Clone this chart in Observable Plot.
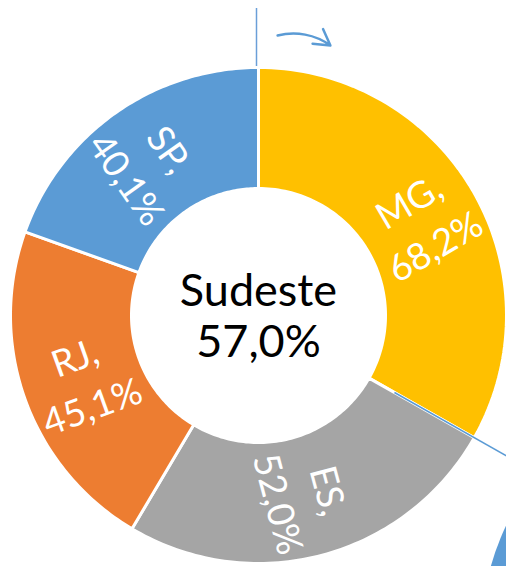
<!DOCTYPE html>
<html><head><meta charset="utf-8">
<script src="https://cdn.jsdelivr.net/npm/d3@7"></script>
<script src="https://cdn.jsdelivr.net/npm/@observablehq/plot@0.6"></script>
<style>html,body{margin:0;padding:0;background:#fff;overflow:hidden}</style>
</head><body><div id="chart"></div>
<script>
// ---- data ----
const states = ["MG", "ES", "RJ", "SP"];
const values = [68.2, 52.0, 45.1, 40.1];
const valueLabels = ["68,2%", "52,0%", "45,1%", "40,1%"];
const colors = ["#FFC000", "#A5A5A5", "#ED7D31", "#5B9BD5"];
const regionName = "Sudeste";
const regionValue = "57,0%";

// ---- layout ----
const W = 506, H = 566;
const cx = 258, cy = 315, R = 248;
const inner = 127 / R;
const labelR = 0.755;
const font = "Lato, 'Open Sans', sans-serif";

const pie = d3.pie().sort(null).value(d => d.value);
const slices = pie(states.map((s, i) => ({state: s, value: values[i], label: valueLabels[i]})));

const pts = [];
for (const sl of slices) {
  const n = 80, a0 = sl.startAngle, a1 = sl.endAngle;
  const ring = [];
  for (let k = 0; k <= n; k++) { const a = a0 + (a1 - a0) * k / n; ring.push([Math.sin(a), Math.cos(a)]); }
  for (let k = n; k >= 0; k--) { const a = a0 + (a1 - a0) * k / n; ring.push([inner * Math.sin(a), inner * Math.cos(a)]); }
  ring.push(ring[0]);
  for (const [x, y] of ring) pts.push({state: sl.data.state, x, y});
}

const labelData = slices.map(sl => {
  const a = (sl.startAngle + sl.endAngle) / 2;
  const deg = a * 180 / Math.PI;
  return {
    x: labelR * Math.sin(a), y: labelR * Math.cos(a),
    text: sl.data.state + ",\n" + sl.data.label,
    rotate: deg < 180 ? deg - 90 : deg - 270
  };
});

// leader along MG/ES boundary
const bA = slices[0].endAngle;
const leader = [{x1: 0.63 * Math.sin(bA), y1: 0.63 * Math.cos(bA), x2: 1.6 * Math.sin(bA), y2: 1.6 * Math.cos(bA)}];

const chart = Plot.plot({
  width: W, height: H, margin: 0,
  style: {background: "white", overflow: "hidden"},
  x: {domain: [-cx / R, (W - cx) / R], axis: null},
  y: {domain: [-(H - cy) / R, cy / R], axis: null},
  color: {domain: states, range: colors},
  marks: [
    Plot.ruleX([0], {y1: (cy - 8) / R, y2: inner, stroke: "#6A9FD8", strokeWidth: 1.5, dx: -2}),
    Plot.line(pts, {x: "x", y: "y", z: "state", fill: "state", stroke: "white", strokeWidth: 3, curve: "linear"}),
    Plot.link(leader, {x1: "x1", y1: "y1", x2: "x2", y2: "y2", stroke: "#5B9BD5", strokeWidth: 1.5}),
    Plot.text(labelData, {x: "x", y: "y", text: "text", rotate: "rotate", fill: "white", fontSize: 37, lineHeight: 1.4, fontFamily: font}),
    Plot.text([regionName + "\n" + regionValue], {x: 0, y: 0, text: d => d, fill: "black", fontSize: 45, lineHeight: 1.12, fontFamily: font}),
    Plot.arrow([{x1: 0.077, y1: 1.129, x2: 0.29, y2: 1.089}], {x1: "x1", y1: "y1", x2: "x2", y2: "y2", bend: 25, stroke: "#5B9BD5", strokeWidth: 2.5, headLength: 16, insetEnd: 0}),
    Plot.dot([{x: 1.9, y: -1.28}], {x: "x", y: "y", r: R, fill: "#5B9BD5", clip: true})
  ]
});
document.getElementById("chart").append(chart);
</script>
</body></html>
